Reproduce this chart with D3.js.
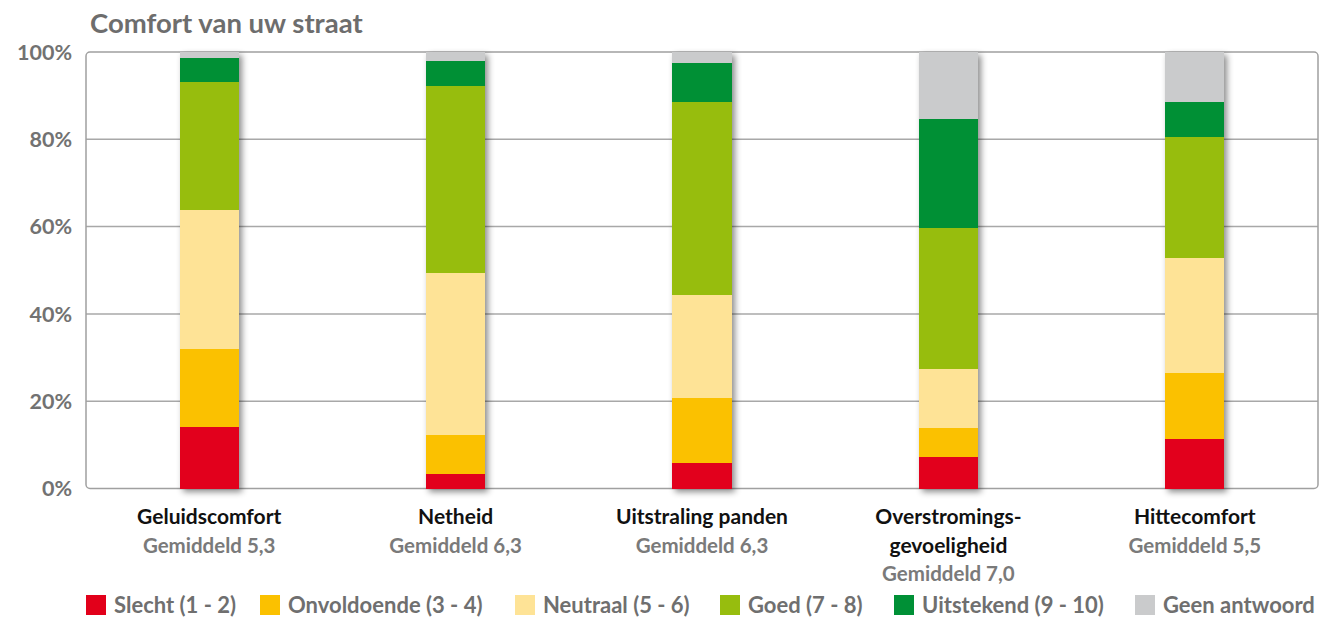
<!DOCTYPE html>
<html>
<head>
<meta charset="utf-8">
<script src="https://cdn.jsdelivr.net/npm/d3@7"></script>
<style>
  body { margin: 0; background: #fff; }
  svg { display: block; font-family: Lato, "Open Sans", sans-serif; }
</style>
</head>
<body>
<svg id="chart" width="1321" height="619"></svg>
<script>
// Comfort van uw straat - stacked 100% bars

const categories = [
  ["Geluidscomfort"],
  ["Netheid"],
  ["Uitstraling panden"],
  ["Overstromings-", "gevoeligheid"],
  ["Hittecomfort"]
];
const averages = ["Gemiddeld 5,3", "Gemiddeld 6,3", "Gemiddeld 6,3", "Gemiddeld 7,0", "Gemiddeld 5,5"];

const seriesNames = ["Slecht (1 - 2)", "Onvoldoende (3 - 4)", "Neutraal (5 - 6)", "Goed (7 - 8)", "Uitstekend (9 - 10)", "Geen antwoord"];
const slecht      = [14.0, 3.3, 5.8, 7.3, 11.3];
const onvoldoende = [17.9, 9.0, 14.9, 6.5, 15.1];
const neutraal    = [31.9, 37.1, 23.6, 13.5, 26.3];
const goed        = [29.4, 42.7, 44.3, 32.3, 27.9];
const uitstekend  = [5.5, 5.9, 8.9, 25.0, 8.0];
const geen        = [1.3, 2.0, 2.5, 15.4, 11.4];

const yTicks = [0, 20, 40, 60, 80, 100];
const colors = ["#e2001a", "#fbc100", "#fee396", "#97bd0e", "#009036", "#cacbcc"];

const svg = d3.select("#chart");

// layout
const plotLeft = 86, plotRight = 1318, plotTop = 52, plotBottom = 488.5;

const seriesValues = [slecht, onvoldoende, neutraal, goed, uitstekend, geen];
const rows = categories.map((c, i) => {
  const r = { idx: i };
  seriesNames.forEach((s, j) => r[s] = seriesValues[j][i]);
  return r;
});
const stacked = d3.stack().keys(seriesNames)(rows);

const x = d3.scaleBand()
  .domain(d3.range(categories.length))
  .range([plotLeft, plotRight])
  .paddingInner(0.76)
  .paddingOuter(0.38);
const y = d3.scaleLinear().domain([0, 100]).range([plotBottom, plotTop]);
const color = d3.scaleOrdinal().domain(seriesNames).range(colors);

// shadow filter
const defs = svg.append("defs");
const f = defs.append("filter").attr("id", "shadow")
  .attr("x", "-30%").attr("y", "-10%").attr("width", "170%").attr("height", "130%");
f.append("feDropShadow")
  .attr("dx", 3).attr("dy", 3).attr("stdDeviation", 3)
  .attr("flood-color", "#000").attr("flood-opacity", 0.45);

// title
svg.append("text")
  .attr("x", 90).attr("y", 33)
  .attr("fill", "#6d6d6d")
  .style("font-size", "27.5px").style("font-weight", 700)
  .text("Comfort van uw straat");

// gridlines
svg.append("g").selectAll("line")
  .data(yTicks.filter(t => t > 0 && t < 100))
  .join("line")
  .attr("x1", plotLeft).attr("x2", plotRight)
  .attr("y1", d => y(d)).attr("y2", d => y(d))
  .attr("stroke", "#a8a8a8").attr("stroke-width", 1.5);

// frame
svg.append("rect")
  .attr("x", plotLeft).attr("y", plotTop)
  .attr("width", plotRight - plotLeft).attr("height", plotBottom - plotTop)
  .attr("rx", 4)
  .attr("fill", "none").attr("stroke", "#a0a0a0").attr("stroke-width", 1.5);

// y labels
svg.append("g").selectAll("text")
  .data(yTicks)
  .join("text")
  .attr("x", 72).attr("y", d => y(d))
  .attr("dy", "0.36em")
  .attr("text-anchor", "end")
  .attr("fill", "#727272")
  .style("font-size", "21.5px").style("font-weight", 700)
  .text(d => d + "%");

// bars
const bars = svg.append("g").selectAll("g")
  .data(categories.map((c, i) => i))
  .join("g")
  .attr("filter", "url(#shadow)");

bars.selectAll("rect")
  .data(i => stacked.map(s => ({ key: s.key, v: s[i], i })))
  .join("rect")
  .attr("x", d => x(d.i))
  .attr("width", x.bandwidth())
  .attr("y", d => y(d.v[1]))
  .attr("height", d => y(d.v[0]) - y(d.v[1]))
  .attr("fill", d => color(d.key))
  .attr("shape-rendering", "crispEdges");

// category labels
const labels = svg.append("g").selectAll("text")
  .data(categories.map((c, i) => i))
  .join("text")
  .attr("text-anchor", "middle")
  .attr("x", i => x(i) + x.bandwidth() / 2)
  .attr("y", 524)
  .style("font-weight", 700);

labels.each(function(i) {
  const t = d3.select(this);
  categories[i].forEach((line, k) => {
    t.append("tspan")
      .attr("x", x(i) + x.bandwidth() / 2)
      .attr("dy", k === 0 ? 0 : 28.5)
      .attr("fill", "#111")
      .style("font-size", "21px")
      .text(line);
  });
  t.append("tspan")
    .attr("x", x(i) + x.bandwidth() / 2)
    .attr("dy", 28.5)
    .attr("fill", "#7a7a7a")
    .style("font-size", "20.5px")
    .text(averages[i]);
});

// legend
const legendX = [86, 260, 515, 720, 894, 1135];
const legend = svg.append("g").selectAll("g")
  .data(seriesNames)
  .join("g")
  .attr("transform", (d, i) => `translate(${legendX[i]},595)`);
legend.append("rect")
  .attr("width", 20).attr("height", 20)
  .attr("fill", d => color(d));
legend.append("text")
  .attr("x", 28).attr("y", 18)
  .attr("fill", "#6f6f6f")
  .style("font-size", "22px").style("font-weight", 700)
  .text(d => d);
</script>
</body>
</html>
